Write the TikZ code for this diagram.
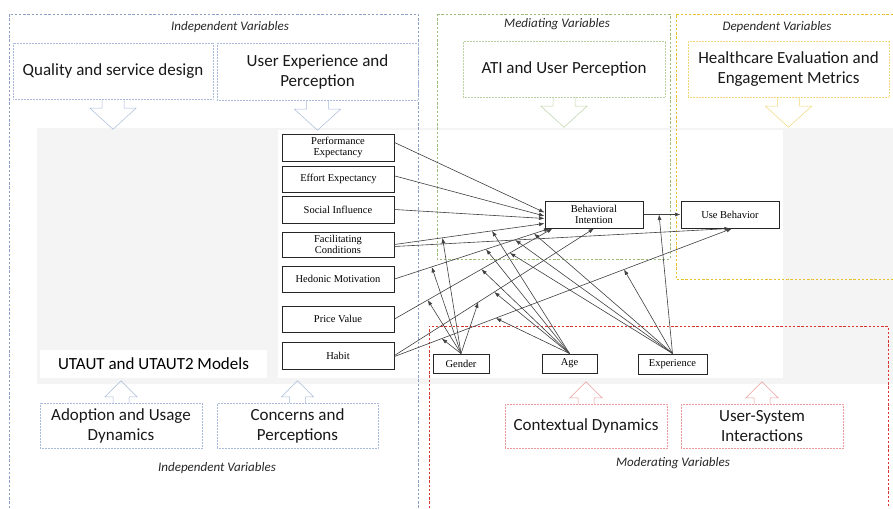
\documentclass[tikz,border=0pt]{standalone}
\usepackage{fontspec}
\setmainfont{Carlito}
\newfontfamily\modelfont{Liberation Serif}
\usetikzlibrary{arrows.meta,positioning,calc}

\definecolor{indframe}{HTML}{8A9FC6}
\definecolor{indbox}{HTML}{A9BADA}
\definecolor{medframe}{HTML}{9CBC7A}
\definecolor{medbox}{HTML}{BCD2A4}
\definecolor{depframe}{HTML}{E8C22E}
\definecolor{depbox}{HTML}{F0D77A}
\definecolor{modframe}{HTML}{D83430}
\definecolor{modbox}{HTML}{EA9A9A}
\definecolor{panelgray}{HTML}{F4F4F4}

% hollow block arrows leaving a box (down from its bottom, up from its top)
\newcommand{\blockdown}[2]{\draw[hollow=#2] ([xshift=-11pt]#1.south) -- ++(0,9) -- ++(-12,0) -- ++(23,21) -- ++(23,-21) -- ++(-12,0) -- ++(0,-9);}
\newcommand{\blockup}[2]{\draw[hollow=#2] ([xshift=-8pt]#1.north) -- ++(0,-6) -- ++(-8,0) -- ++(16,-16) -- ++(16,16) -- ++(-8,0) -- ++(0,6);}

\begin{document}
\begin{tikzpicture}[x=1pt, y=-1pt,
    frame/.style={dash pattern=on 2.4pt off 1.8pt, line width=0.6pt},
    varbox/.style={draw=#1, densely dotted, line width=0.5pt, fill=white, align=center,
        text=black!90, font=\fontsize{17}{20}\selectfont, inner sep=2pt},
    grouplabel/.style={font=\itshape\fontsize{13}{15}\selectfont, text=black!85},
    construct/.style={draw=black!85, line width=1pt, fill=white, align=center,
        font=\modelfont\fontsize{10.5}{11.5}\selectfont, text=black, inner sep=1pt,
        minimum width=112pt, minimum height=26pt},
    moderator/.style={construct, minimum height=19pt},
    link/.style={draw=black!75, line width=0.6pt, -{Latex[length=5.5pt,width=4pt]}},
    hollow/.style={draw=#1, line width=0.5pt}]
    \useasboundingbox (0,0) rectangle (893,508);

    % Model panel
    \fill[panelgray] (37,128) rectangle (893,384);
    \fill[white] (278,130) rectangle (783,378);
    \node[fill=white, minimum width=227pt, minimum height=28pt,
        font=\fontsize{17}{20}\selectfont] (utaut) at (153.5,364) {UTAUT and UTAUT2 Models};

    % Variable groups
    \draw[frame, indframe] (9,508) -- (9,14) -- (418,14) -- (418,508);
    \draw[frame, medframe] (437,14) rectangle (670,259);
    \draw[frame, depframe] (893,14) -- (676,14) -- (676,279) -- (893,279);
    \draw[frame, modframe] (429,508) -- (429,326) -- (888,326) -- (888,508);

    \node[grouplabel] (indtop) at (230,27) {Independent Variables};
    \node[grouplabel] (medtop) at (557,24) {Mediating Variables};
    \node[grouplabel] (deptop) at (777,27) {Dependent Variables};
    \node[grouplabel] (indbot) at (217,468) {Independent Variables};
    \node[grouplabel] (modbot) at (673,463) {Moderating Variables};

    % Top boxes
    \node[varbox=indbox, minimum width=200pt, minimum height=56pt] (qsd) at (113,71) {Quality and service design};
    \node[varbox=indbox, minimum width=201pt, minimum height=57pt] (uxp) at (317.5,71.5) {User Experience and\\Perception};
    \node[varbox=medbox, minimum width=202pt, minimum height=56pt] (ati) at (564,69) {ATI and User Perception};
    \node[varbox=depbox, minimum width=201pt, minimum height=56pt] (hem) at (788.5,69) {Healthcare Evaluation and\\Engagement Metrics};
    \blockdown{qsd}{indbox}
    \blockdown{uxp}{indbox}
    \blockdown{ati}{medbox}
    \blockdown{hem}{depbox}

    % Bottom boxes
    \node[varbox=indbox, minimum width=162pt, minimum height=45pt] (aud) at (121,425.5) {Adoption and Usage\\Dynamics};
    \node[varbox=indbox, minimum width=161pt, minimum height=45pt] (cnp) at (297.5,425.5) {Concerns and\\Perceptions};
    \node[varbox=modbox, minimum width=162pt, minimum height=44pt] (ctx) at (586,426) {Contextual Dynamics};
    \node[varbox=modbox, minimum width=162pt, minimum height=44pt] (usi) at (762,426) {User-System\\Interactions};
    \blockup{aud}{indbox}
    \blockup{cnp}{indbox}
    \blockup{ctx}{modbox}
    \blockup{usi}{modbox}

    % UTAUT2 constructs
    \node[construct, minimum height=27pt] (pe) at (338,147.5) {Performance\\Expectancy};
    \node[construct] (ee) at (338.5,179) {Effort Expectancy};
    \node[construct, minimum height=27pt] (si) at (338,209.5) {Social Influence};
    \node[construct, minimum height=25pt] (fc) at (338,244.5) {Facilitating\\Conditions};
    \node[construct] (hm) at (338,279) {Hedonic Motivation};
    \node[construct] (pv) at (338,319) {Price Value};
    \node[construct, minimum height=27pt] (hb) at (338,355.5) {Habit};
    \node[construct, minimum width=98pt, minimum height=27pt] (bi) at (594,214.5) {Behavioral\\Intention};
    \node[construct, minimum width=98pt, minimum height=27pt] (ub) at (730,214.5) {Use Behavior};

    \node[moderator, minimum width=56pt] (gd) at (461,363.5) {Gender};
    \node[moderator, minimum width=55pt] (ag) at (569.5,363.5) {Age};
    \node[moderator, minimum width=69pt, minimum height=20pt] (ex) at (672.5,364) {Experience};

    % Direct paths
    \draw[link] ([yshift=5pt]pe.east) -- ([yshift=2pt]bi.west);
    \draw[link] ([yshift=3pt]ee.east) -- ([yshift=-1.5pt]bi.west);
    \draw[link] (si.east) -- ([yshift=-4pt]bi.west);
    \draw[link] (fc.east) -- coordinate[pos=0.32] (fcg) coordinate[pos=0.65] (fca) ([yshift=-9pt]bi.west);
    \draw[link] ([yshift=-2pt]fc.east) -- coordinate[pos=0.36] (fcx) (ub.south);
    \draw[link] (hm.east) -- coordinate[pos=0.24] (hmg) coordinate[pos=0.59] (hma) coordinate[pos=0.90] (hmx) ([xshift=5pt]bi.south west);
    \draw[link] (pv.east) -- coordinate[pos=0.21] (pvg) coordinate[pos=0.55] (pva) coordinate[pos=0.73] (pvx) ([xshift=8pt]bi.south west);
    \draw[link] (hb.east) -- coordinate[pos=0.42] (hbg) coordinate[pos=0.50] (hba) (bi.south);
    \draw[link] ([yshift=-1pt]hb.east) -- coordinate[pos=0.14] (hug) coordinate[pos=0.30] (hua) coordinate[pos=0.68] (hux) ([xshift=2pt]ub.south);
    \draw[link] (bi.east) -- coordinate[pos=0.42] (bux) (ub.west);

    % Moderating effects
    \foreach \t in {fcg,hmg,pvg,hbg,hug} \draw[link] (gd.north) -- (\t);
    \foreach \t in {fca,hma,pva,hba,hua} \draw[link] (ag.north) -- (\t);
    \foreach \t in {fcx,hmx,pvx,hux,bux} \draw[link] (ex.north) -- (\t);
\end{tikzpicture}
\end{document}
